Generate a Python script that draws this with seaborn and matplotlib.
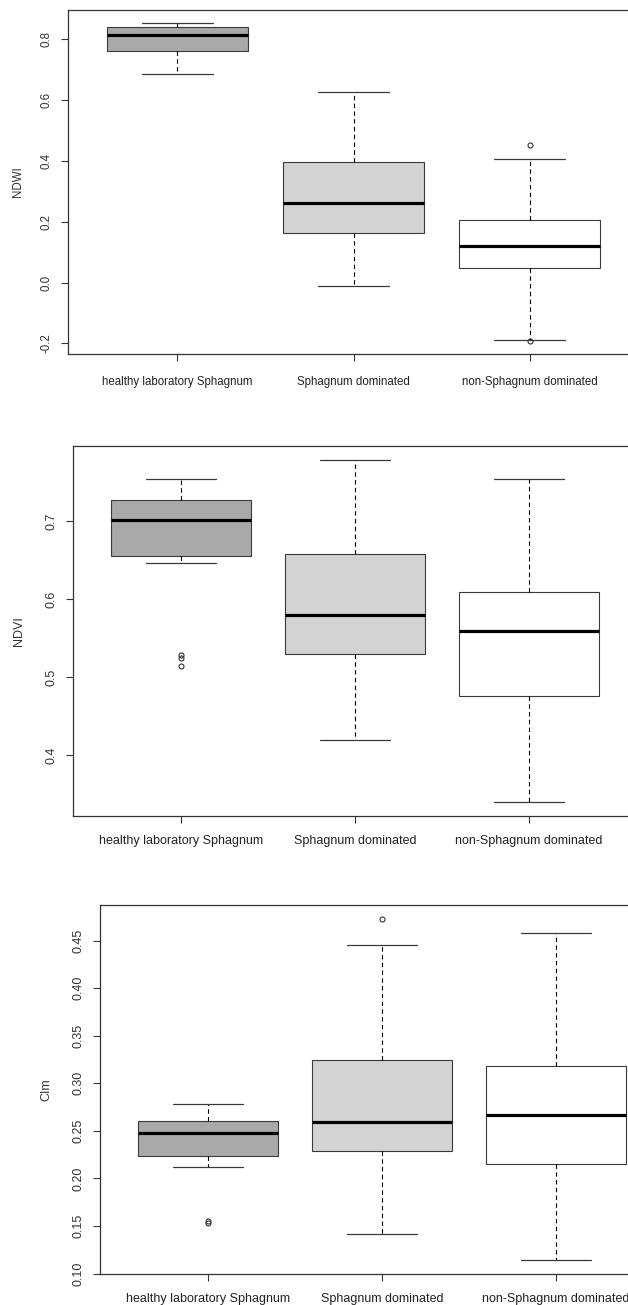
import matplotlib
import pandas as pd
import seaborn as sns

matplotlib.use("Agg")
import matplotlib.pyplot as plt

# Group names on the x axis
groups = ["healthy laboratory Sphagnum", "Sphagnum dominated", "non-Sphagnum dominated"]
fills = ["#a9a9a9", "#d3d3d3", "#ffffff"]

# Values: whisker ends, hinges, medians and outliers,
# repeated where needed so the quartiles come out as drawn.
ndwi_lab = [0.684, 0.760, 0.815, 0.840, 0.854]
ndwi_sph = [-0.010, 0.164, 0.263, 0.396, 0.627]
ndwi_non = [-0.193, -0.190, 0.047, 0.047, 0.121, 0.206, 0.206, 0.407, 0.452]

ndvi_lab = [0.515, 0.525, 0.529, 0.646, 0.656, 0.656, 0.656, 0.656, 0.702,
            0.727, 0.727, 0.727, 0.727, 0.754, 0.754, 0.754, 0.754]
ndvi_sph = [0.420, 0.530, 0.580, 0.658, 0.779]
ndvi_non = [0.340, 0.476, 0.559, 0.609, 0.754]

cim_lab = [0.153, 0.155, 0.212, 0.224, 0.224, 0.224, 0.248,
           0.260, 0.260, 0.260, 0.278, 0.278, 0.278]
cim_sph = [0.142, 0.142, 0.229, 0.229, 0.259, 0.325, 0.325, 0.445, 0.473]
cim_non = [0.114, 0.215, 0.267, 0.318, 0.458]

ndwi_ticks = [-0.2, 0.0, 0.2, 0.4, 0.6, 0.8]
ndvi_ticks = [0.4, 0.5, 0.6, 0.7]
cim_ticks = [0.10, 0.15, 0.20, 0.25, 0.30, 0.35, 0.40, 0.45]

W, H = 628, 1305


def long_df(series):
    rows = []
    for name, vals in zip(groups, series):
        for v in vals:
            rows.append({"group": name, "value": v})
    return pd.DataFrame(rows)


def draw_panel(rect_px, series, ylabel, ticks, fmt, fs, label_off, xpad):
    left, top, right, bottom = rect_px
    ax = fig.add_axes([left / W, 1 - bottom / H, (right - left) / W, (bottom - top) / H])
    df = long_df(series)
    sns.boxplot(
        data=df, x="group", y="value", hue="group", palette=fills,
        order=groups, hue_order=groups, legend=False,
        width=0.8, whis=1.5, linecolor="#3a3a3a", linewidth=0.8,
        saturation=1, ax=ax,
        medianprops={"color": "black", "linewidth": 2.3},
        whiskerprops={"color": "black", "linewidth": 0.8, "linestyle": (0, (4, 3))},
        capprops={"color": "#3a3a3a", "linewidth": 0.9},
        flierprops={"marker": "o", "markerfacecolor": "none",
                    "markeredgecolor": "#333333", "markersize": 3.6,
                    "markeredgewidth": 0.8},
    )
    # R style axis limits: data range plus 4 %
    lo = min(min(s) for s in series)
    hi = max(max(s) for s in series)
    pad = (hi - lo) * 0.04
    ax.set_ylim(lo - pad, hi + pad)
    ax.set_xlim(-0.62, 2.62)

    ax.set_yticks(ticks)
    ax.set_yticklabels([fmt.format(t) for t in ticks], rotation=90, va="center",
                       fontsize=fs, color="#333333")
    ax.set_xticks(range(3))
    ax.set_xticklabels(groups, fontsize=fs, color="#222222")
    ax.tick_params(axis="both", length=5, width=0.8, color="#333333", direction="out")
    ax.tick_params(axis="y", pad=6)
    ax.tick_params(axis="x", pad=xpad)
    ax.set_xlabel("")
    ax.set_ylabel(ylabel, fontsize=fs, color="#333333")
    ax.yaxis.set_label_coords(-label_off / (right - left), 0.5)
    for sp in ax.spines.values():
        sp.set_color("#333333")
        sp.set_linewidth(0.9)
        sp.set_visible(True)
    return ax


sns.set_style("ticks")
plt.rcParams["font.family"] = ["Liberation Sans", "DejaVu Sans"]

fig = plt.figure(figsize=(W / 100, H / 100), dpi=100)

draw_panel((68, 10, 639, 354), [ndwi_lab, ndwi_sph, ndwi_non], "NDWI",
           ndwi_ticks, "{:.1f}", 8.3, 44, 11)
draw_panel((73, 446, 637, 816), [ndvi_lab, ndvi_sph, ndvi_non], "NDVI",
           ndvi_ticks, "{:.1f}", 9.0, 48, 9)
draw_panel((100, 905, 664, 1274), [cim_lab, cim_sph, cim_non], "CIm",
           cim_ticks, "{:.2f}", 9.0, 48, 8.5)

fig.savefig("out.png", dpi=100)
plt.close(fig)
